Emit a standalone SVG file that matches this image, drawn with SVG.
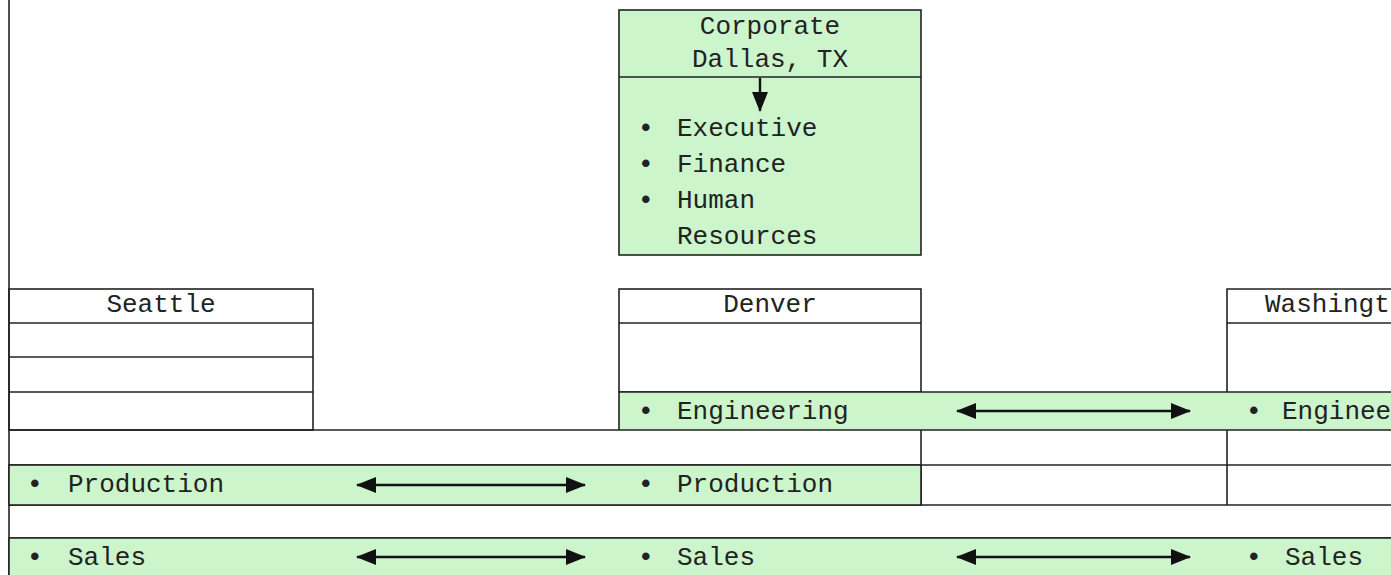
<svg xmlns="http://www.w3.org/2000/svg" width="1391" height="575" viewBox="0 0 1391 575">
<defs>
<style>
.t{font-family:"Liberation Mono","Courier New",monospace;font-size:26px;fill:#222}
.c{text-anchor:middle}
.b{font-weight:bold}
.ln{stroke:#222;stroke-width:1.6;fill:none}
.g{fill:#ccf5cc}
.a{stroke:#111;stroke-width:2.4;fill:none}
</style>
<marker id="ah" viewBox="0 0 20 16" refX="19" refY="8" markerWidth="20" markerHeight="16" markerUnits="userSpaceOnUse" orient="auto-start-reverse">
<path d="M0,0 L20,8 L0,16 Z" fill="#111"/>
</marker>
</defs>
<rect width="1391" height="575" fill="#fff"/>

<g id="corporate">
<rect class="g" x="619" y="10" width="302" height="245"/>
<rect class="ln" x="619" y="10" width="302" height="245"/>
<line class="ln" x1="619" y1="77" x2="921" y2="77"/>
<text class="t c" x="770" y="34">Corporate</text>
<text class="t c" x="770" y="67">Dallas, TX</text>
<text class="t b" x="638" y="136">•</text><text class="t" x="677" y="136">Executive</text>
<text class="t b" x="638" y="172">•</text><text class="t" x="677" y="172">Finance</text>
<text class="t b" x="638" y="208">•</text><text class="t" x="677" y="208">Human</text>
<text class="t" x="677" y="244">Resources</text>
</g>

<g id="seattle">
<rect class="ln" x="9" y="289" width="304" height="141"/>
<line class="ln" x1="9" y1="323" x2="313" y2="323"/>
<line class="ln" x1="9" y1="357" x2="313" y2="357"/>
<line class="ln" x1="9" y1="392" x2="313" y2="392"/>
<text class="t c" x="161" y="312">Seattle</text>
</g>

<g id="denver">
<rect class="ln" x="619" y="289" width="302" height="103"/>
<line class="ln" x1="619" y1="323" x2="921" y2="323"/>
<text class="t c" x="770" y="312">Denver</text>
</g>

<g id="washington">
<path class="ln" d="M1391,289 H1227 V392"/>
<line class="ln" x1="1227" y1="323" x2="1391" y2="323"/>
<text class="t" x="1265" y="312" font-size="25.5">Washingt</text>
</g>

<g id="engineering">
<rect class="g" x="619" y="392" width="772" height="38"/>
<path class="ln" d="M1391,392 H619 V430"/>
<text class="t b" x="638" y="419">•</text><text class="t" x="677" y="419">Engineering</text>
<text class="t b" x="1246" y="419">•</text><text class="t" x="1282" y="419" font-size="25">Enginee</text>
</g>

<g id="grid">
<line class="ln" x1="9" y1="0" x2="9" y2="575"/>
<line class="ln" x1="9" y1="430" x2="1391" y2="430"/>
<line class="ln" x1="9" y1="465" x2="1391" y2="465"/>
<line class="ln" x1="921" y1="430" x2="921" y2="505"/>
<line class="ln" x1="1227" y1="430" x2="1227" y2="505"/>
<line class="ln" x1="9" y1="505" x2="1391" y2="505"/>
<line class="ln" x1="9" y1="538" x2="1391" y2="538"/>
</g>

<g id="production">
<rect class="g" x="9" y="465" width="912" height="40"/>
<rect class="ln" x="9" y="465" width="912" height="40"/>
<text class="t b" x="27" y="492">•</text><text class="t" x="68" y="492">Production</text>
<text class="t b" x="638" y="492">•</text><text class="t" x="677" y="492">Production</text>
</g>

<g id="sales">
<rect class="g" x="9" y="538" width="1382" height="40"/>
<path class="ln" d="M1391,538 H9 V575"/>
<text class="t b" x="27" y="565">•</text><text class="t" x="68" y="565">Sales</text>
<text class="t b" x="638" y="565">•</text><text class="t" x="677" y="565">Sales</text>
<text class="t b" x="1246" y="565">•</text><text class="t" x="1285" y="565">Sales</text>
</g>

<g id="connectors">
<line class="a" x1="760" y1="78" x2="760" y2="111" marker-end="url(#ah)"/>
<line class="a" x1="357" y1="485" x2="585" y2="485" marker-start="url(#ah)" marker-end="url(#ah)"/>
<line class="a" x1="957" y1="411" x2="1190" y2="411" marker-start="url(#ah)" marker-end="url(#ah)"/>
<line class="a" x1="357" y1="557" x2="585" y2="557" marker-start="url(#ah)" marker-end="url(#ah)"/>
<line class="a" x1="957" y1="557" x2="1190" y2="557" marker-start="url(#ah)" marker-end="url(#ah)"/>
</g>
</svg>
